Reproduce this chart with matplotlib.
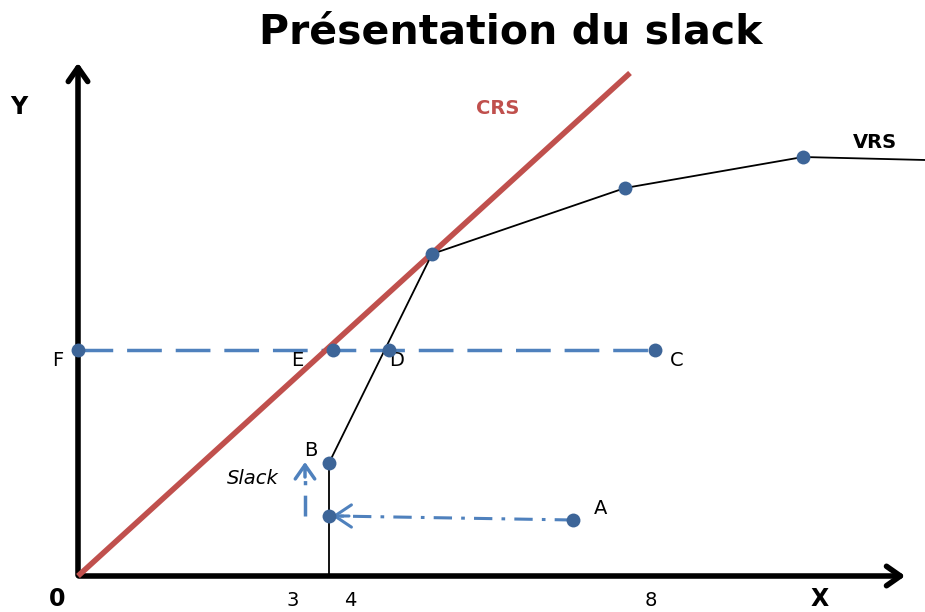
import matplotlib.pyplot as plt

# coordinates in pixel-like units, origin at the "0" corner, y up
vrs_x = [251, 251, 354, 547, 725, 847]
vrs_y = [0, 113, 322, 388, 419, 416]
crs_x = [0, 552]
crs_y = [0, 503]
level_x = [0, 255, 311, 577]     # F, E, D, C
level_y = [226, 226, 226, 226]
a_point = (495, 56)
a_proj = (251, 60)
slack_x = 227
slack_y = [60, 114]
tick_pos = [215, 272, 573]
tick_labels = ["3", "4", "8"]

blue = "#4F81BD"
dot = "#3D6598"
red = "#C0504D"
dashdot = (0, (6, 3, 1.2, 3))

fig = plt.figure(figsize=(9.25, 6.12), dpi=100)
ax = fig.add_axes([0, 0, 1, 1])
ax.set_xlim(-78, 847)
ax.set_ylim(-36, 576)
ax.axis("off")

# axes arrows
head = dict(arrowstyle="->,head_length=1.0,head_width=0.7", lw=4, color="black")
ax.annotate("", xy=(830, 0), xytext=(-2, 0), arrowprops=head)
ax.annotate("", xy=(0, 516), xytext=(0, -2), arrowprops=head)

# CRS frontier
ax.plot(crs_x, crs_y, color=red, lw=4, solid_capstyle="butt", zorder=3)

# VRS frontier
ax.plot(vrs_x, vrs_y, color="black", lw=1.3, zorder=4)

# horizontal dashed line F-C
ax.plot(level_x, level_y, color=blue, lw=2.5, dashes=(10, 4), zorder=2)

# A projected onto the frontier, then the slack up to B
ax.plot([a_point[0], a_proj[0] + 6], [a_point[1], a_proj[1]], color=blue, lw=2.2,
        linestyle=dashdot)
ax.annotate("", xy=(a_proj[0] + 3, a_proj[1]), xytext=(a_proj[0] + 20, a_proj[1]),
            arrowprops=dict(arrowstyle="->,head_length=0.6,head_width=0.4", lw=2.2,
                            color=blue, mutation_scale=20, shrinkA=0, shrinkB=0))
ax.plot([slack_x, slack_x], [slack_y[0], slack_y[1] - 6], color=blue, lw=2.5,
        linestyle=dashdot)
ax.annotate("", xy=(slack_x, slack_y[1]), xytext=(slack_x, slack_y[1] - 15),
            arrowprops=dict(arrowstyle="->,head_length=0.5,head_width=0.35", lw=2.5,
                            color=blue, mutation_scale=20, shrinkA=0, shrinkB=0))

# markers
mk = dict(marker="o", ms=10, color=dot, ls="none", zorder=6, markeredgewidth=0)
ax.plot(vrs_x[1:5], vrs_y[1:5], **mk)
ax.plot(level_x, level_y, **mk)
ax.plot([a_point[0], a_proj[0]], [a_point[1], a_proj[1]], **mk)

# labels
fs = 14
ax.text(-20, 215, "F", fontsize=fs, ha="center", va="center")
ax.text(219, 215, "E", fontsize=fs, ha="center", va="center")
ax.text(319, 215, "D", fontsize=fs, ha="center", va="center")
ax.text(599, 215, "C", fontsize=fs, ha="center", va="center")
ax.text(233, 125, "B", fontsize=fs, ha="center", va="center")
ax.text(523, 68, "A", fontsize=fs, ha="center", va="center")
ax.text(175, 97, "Slack", fontsize=fs, style="italic", ha="center", va="center")
ax.text(420, 467, "CRS", fontsize=14, fontweight="bold", color=red, ha="center", va="center")
ax.text(797, 433, "VRS", fontsize=14, fontweight="bold", ha="center", va="center")
ax.text(-59, 469, "Y", fontsize=17, fontweight="bold", ha="center", va="center")
ax.text(742, -23, "X", fontsize=17, fontweight="bold", ha="center", va="center")
ax.text(-21, -23, "0", fontsize=17, fontweight="bold", ha="center", va="center")
for p, t in zip(tick_pos, tick_labels):
    ax.text(p, -25, t, fontsize=14, ha="center", va="center")

ax.text(433, 543, "Présentation du slack", fontsize=29.5, fontweight="bold",
        ha="center", va="center")

fig.savefig("out.png", dpi=100)
